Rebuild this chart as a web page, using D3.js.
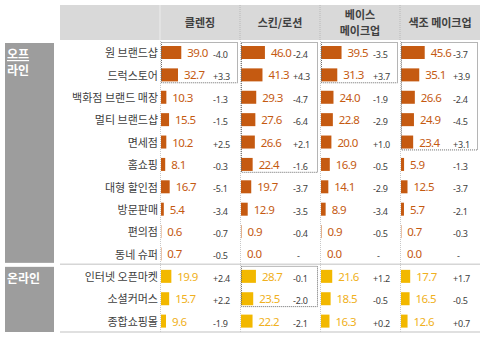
<!DOCTYPE html>
<html><head><meta charset="utf-8">
<script src="https://cdn.jsdelivr.net/npm/d3@7"></script>
<style>
html,body{margin:0;padding:0;background:#fff;}
svg{display:block;font-family:"Noto Sans CJK KR","Noto Sans",sans-serif;}
</style></head>
<body><svg id="chart" width="485" height="337"></svg>
<script>
const categories = ["원 브랜드샵","드럭스토어","백화점 브랜드 매장","멀티 브랜드샵","면세점","홈쇼핑","대형 할인점","방문판매","편의점","동네 슈퍼","인터넷 오픈마켓","소셜커머스","종합쇼핑몰"];
const groupNames = ["오프라인","온라인"];
const groupLabelLines = [["오프","라인"],["온라인"]];
const groupSizes = [10, 3];
const columns = ["클렌징","스킨/로션","베이스 메이크업","색조 메이크업"];
const columnLabelLines = [["클렌징"],["스킨/로션"],["베이스","메이크업"],["색조 메이크업"]];

const cleansing    = [39.0,32.7,10.3,15.5,10.2,8.1,16.7,5.4,0.6,0.7,19.9,15.7,9.6];
const skinLotion   = [46.0,41.3,29.3,27.6,26.6,22.4,19.7,12.9,0.9,0.0,28.7,23.5,22.2];
const baseMakeup   = [39.5,31.3,24.0,22.8,20.0,16.9,14.1,8.9,0.9,0.0,21.6,18.5,16.3];
const colorMakeup  = [45.6,35.1,26.6,24.9,23.4,5.9,12.5,5.7,0.7,0.0,17.7,16.5,12.6];

const cleansingChg   = ["-4.0","+3.3","-1.3","-1.5","+2.5","-0.3","-5.1","-3.4","-0.7","-0.5","+2.4","+2.2","-1.9"];
const skinLotionChg  = ["-2.4","+4.3","-4.7","-6.4","+2.1","-1.6","-3.7","-3.5","-0.4","-","-0.1","-2.0","-2.1"];
const baseMakeupChg  = ["-3.5","+3.7","-1.9","-2.9","+1.0","-0.5","-2.9","-3.4","-0.5","-","+1.2","-0.5","+0.2"];
const colorMakeupChg = ["-3.7","+3.9","-2.4","-4.5","+3.1","-1.3","-3.7","-2.1","-0.3","-","+1.7","-0.5","+0.7"];

// highlighted (dotted) boxes: column, first row, last row
const highlightCols  = ["클렌징","스킨/로션","베이스 메이크업","색조 메이크업","스킨/로션"];
const highlightFirst = ["원 브랜드샵","원 브랜드샵","원 브랜드샵","원 브랜드샵","인터넷 오픈마켓"];
const highlightLast  = ["드럭스토어","홈쇼핑","드럭스토어","면세점","소셜커머스"];

const seriesValues = [cleansing, skinLotion, baseMakeup, colorMakeup];
const seriesChanges = [cleansingChg, skinLotionChg, baseMakeupChg, colorMakeupChg];

const svg = d3.select("#chart");
const offColor = "#c55a11", onColor = "#f2b800", onText = "#f0b020";

const y = d3.scaleBand().domain(categories).range([42, 333]);
const x = d3.scaleBand().domain(columns).range([160, 480]);
const w = d3.scaleLinear().domain([0, 100]).range([0, 52]);

const isOnline = i => i >= groupSizes[0];

// header
svg.append("rect").attr("x", 60).attr("y", 5).attr("width", 420).attr("height", 35).attr("fill", "#d9d9d9");
columns.forEach((c, ci) => {
  if (ci > 0) svg.append("line").attr("x1", x(c)).attr("x2", x(c)).attr("y1", 5).attr("y2", 40)
      .attr("stroke", "#b8b8b8").attr("stroke-dasharray", "1,1");
  const lines = columnLabelLines[ci];
  const cx = x(c) + x.bandwidth() / 2;
  const t = svg.append("text").attr("x", cx).attr("text-anchor", "middle")
    .attr("font-size", 11).attr("font-weight", "bold").attr("fill", "#404040");
  lines.forEach((ln, li) => {
    t.append("tspan").attr("x", cx).attr("y", 26.5 - (lines.length - 1) * 8 + li * 16).text(ln);
  });
});
svg.append("line").attr("x1", 160).attr("x2", 160).attr("y1", 5).attr("y2", 40).attr("stroke", "#ececec");

// group boxes
let start = 0;
groupSizes.forEach((n, gi) => {
  const first = categories[start], last = categories[start + n - 1];
  const top = y(first) + (gi === 0 ? 1 : 1), bottom = y(last) + y.bandwidth() - (gi === 0 ? 3 : 1);
  svg.append("rect").attr("x", 5).attr("y", top).attr("width", 49).attr("height", bottom - top).attr("fill", "#9d9d9d");
  groupLabelLines[gi].forEach((ln, li) => {
    svg.append("text").attr("x", 7).attr("y", top + 16 + li * 16).attr("font-size", 12)
      .attr("font-weight", "bold").attr("fill", "#fff")
      .attr("text-decoration", gi === 0 && li === 0 ? "underline" : null).text(ln);
  });
  start += n;
});

// horizontal separators
const sepY = [y(categories[groupSizes[0]]) - 1.5, y(categories[categories.length - 1]) + y.bandwidth() - 1];
sepY.forEach(v => svg.append("line").attr("x1", 60).attr("x2", 480).attr("y1", v).attr("y2", v)
  .attr("stroke", "#d6d6d6").attr("stroke-width", 1.5));

// column axis lines
columns.forEach(c => svg.append("line").attr("x1", x(c) + 0.5).attr("x2", x(c) + 0.5)
  .attr("y1", 41).attr("y2", 332).attr("stroke", "#c8c8c8").attr("stroke-dasharray", "1,1"));

// category labels
svg.selectAll("text.cat").data(categories).join("text").attr("class", "cat")
  .attr("x", 158).attr("y", d => y(d) + y.bandwidth() / 2 + 4).attr("text-anchor", "end")
  .attr("font-size", 11).attr("fill", "#404040").text(d => d);

// bars and labels
columns.forEach((c, ci) => {
  const vals = seriesValues[ci], chg = seriesChanges[ci];
  const g = svg.append("g");
  g.selectAll("rect").data(vals).join("rect")
    .attr("x", x(c) + 1).attr("y", (d, i) => y(categories[i]) + 4)
    .attr("width", d => w(d)).attr("height", 13)
    .attr("fill", (d, i) => isOnline(i) ? onColor : offColor);
  g.selectAll("text.val").data(vals).join("text").attr("class", "val")
    .attr("x", d => x(c) + 1 + w(d) + 6).attr("y", (d, i) => y(categories[i]) + 15)
    .attr("font-family", "Noto Sans").attr("font-size", 11.5).attr("letter-spacing", -0.6)
    .attr("fill", (d, i) => isOnline(i) ? onText : offColor).text(d => d.toFixed(1));
  g.selectAll("text.chg").data(chg).join("text").attr("class", "chg")
    .attr("x", (d) => x(c) + 53 + (d === "-" ? 4 : 0)).attr("y", (d, i) => y(categories[i]) + 16)
    .attr("font-family", "Noto Sans").attr("font-size", 9).attr("letter-spacing", -0.2)
    .attr("fill", "#404040").text(d => d);
});

// highlight boxes
highlightCols.forEach((c, hi) => {
  const top = y(highlightFirst[hi]) + 0.5;
  const bottom = y(highlightLast[hi]) + y.bandwidth() - 4;
  svg.append("rect").attr("x", x(c) + 1.5).attr("y", top).attr("width", 76).attr("height", bottom - top)
    .attr("fill", "none").attr("stroke", "#6b6b6b").attr("stroke-dasharray", "1,1");
});
</script></body></html>
